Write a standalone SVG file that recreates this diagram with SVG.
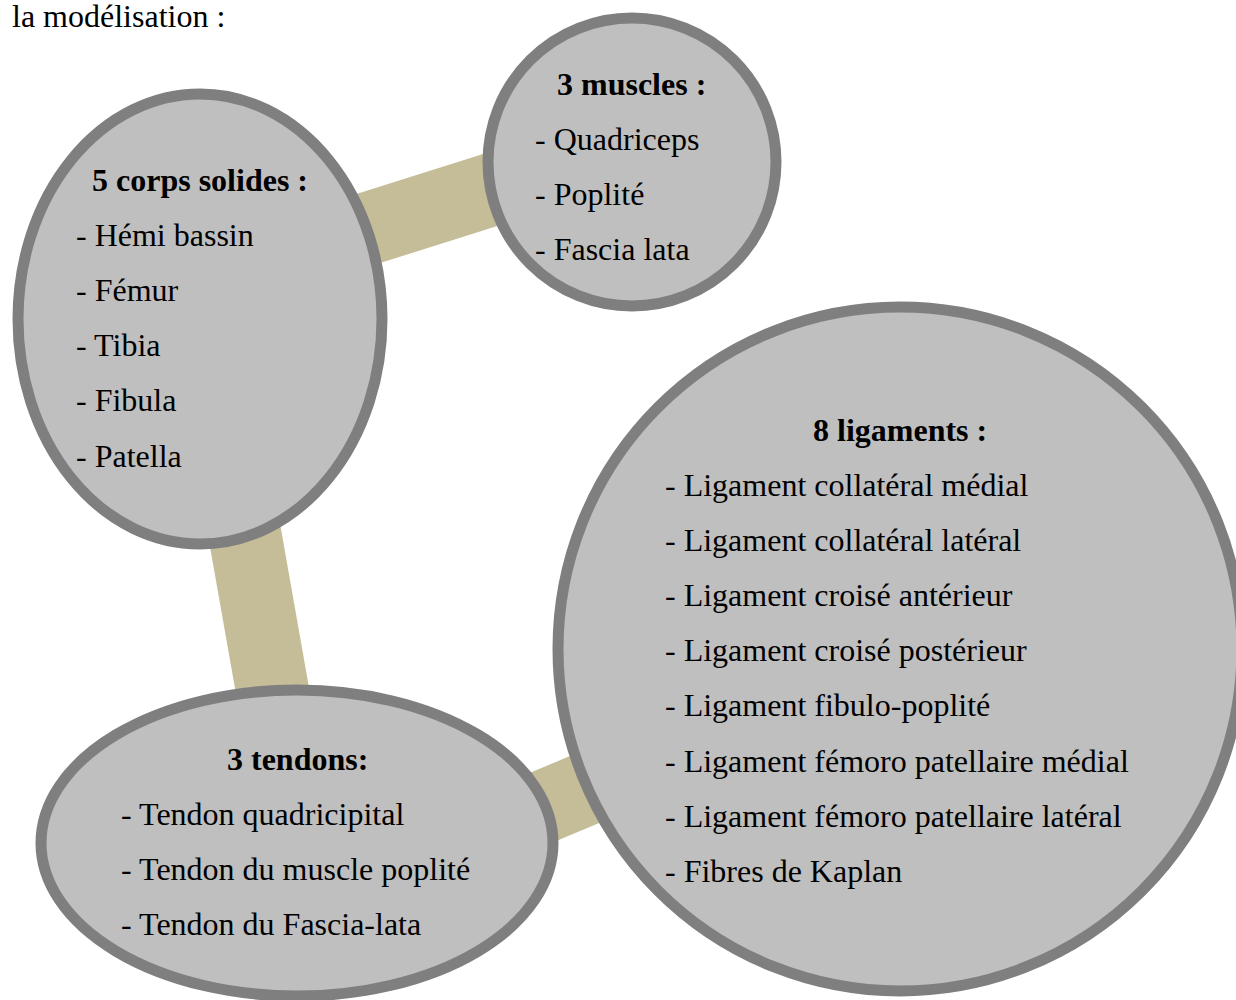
<svg xmlns="http://www.w3.org/2000/svg" width="1236" height="1000" viewBox="0 0 1236 1000">
<style>
.node{fill:#BFBFBF;stroke:#7F7F7F;stroke-width:11}
.link{stroke:#C4BD97;stroke-width:73;fill:none}
text{font-family:"Liberation Serif","Times New Roman",serif;font-size:32px;fill:#000}
.h{font-weight:bold}
</style>
<rect width="1236" height="1000" fill="#fff"/>
<text x="12" y="27">la modélisation :</text>
<g id="connectors">
<line class="link" x1="300" y1="250" x2="560" y2="168"/>
<line class="link" x1="230" y1="450" x2="290" y2="790"/>
<line class="link" x1="400" y1="867" x2="700" y2="741"/>
</g>
<g id="muscles">
<circle class="node" cx="632" cy="162" r="144"/>
<text class="h" x="557" y="95">3 muscles :</text>
<text x="535" y="150">- Quadriceps</text>
<text x="535" y="205">- Poplité</text>
<text x="535" y="260">- Fascia lata</text>
</g>
<g id="corps">
<ellipse class="node" cx="200" cy="319" rx="182" ry="225"/>
<text class="h" x="92" y="191">5 corps solides :</text>
<text x="76" y="246">- Hémi bassin</text>
<text x="76" y="301">- Fémur</text>
<text x="76" y="356">- Tibia</text>
<text x="76" y="411">- Fibula</text>
<text x="76" y="467">- Patella</text>
</g>
<g id="tendons">
<ellipse class="node" cx="297" cy="843" rx="256" ry="153"/>
<text class="h" x="227" y="770">3 tendons:</text>
<text x="121" y="825">- Tendon quadricipital</text>
<text x="121" y="880">- Tendon du muscle poplité</text>
<text x="121" y="935">- Tendon du Fascia-lata</text>
</g>
<g id="ligaments">
<circle class="node" cx="900" cy="649" r="342"/>
<text class="h" x="813" y="441">8 ligaments :</text>
<text x="665" y="496">- Ligament collatéral médial</text>
<text x="665" y="551">- Ligament collatéral latéral</text>
<text x="665" y="606">- Ligament croisé antérieur</text>
<text x="665" y="661">- Ligament croisé postérieur</text>
<text x="665" y="716">- Ligament fibulo-poplité</text>
<text x="665" y="772">- Ligament fémoro patellaire médial</text>
<text x="665" y="827">- Ligament fémoro patellaire latéral</text>
<text x="665" y="882">- Fibres de Kaplan</text>
</g>
</svg>
